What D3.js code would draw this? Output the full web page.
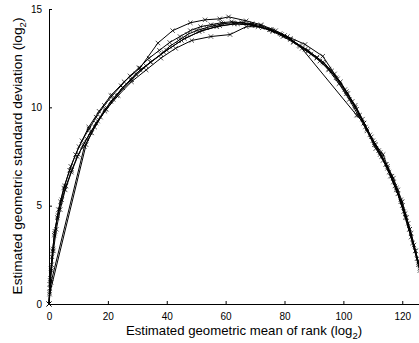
<!DOCTYPE html>
<html>
<head>
<meta charset="utf-8">
<script src="https://cdn.jsdelivr.net/npm/d3@7"></script>
<style>
html,body{margin:0;padding:0;background:#fff;}
svg{display:block;}
</style>
</head>
<body>
<svg id="chart" width="419" height="343"></svg>
<script>
const xTicks = [0, 20, 40, 60, 80, 100, 120];
const yTicks = [0, 5, 10, 15];
const xLabel = "Estimated geometric mean of rank (log";
const yLabel = "Estimated geometric standard deviation (log";

const s1 = [[0,0],[0.2,0.6],[0.5,1.3],[0.9,2.0],[1.4,2.8],[2.0,3.7],[3.0,4.5],[4.3,5.3],[5.8,6.0],[7.7,6.8],[9.6,7.5],[11.7,8.1],[14,8.7],[16.5,9.3],[19,9.9],[21.8,10.4],[25,11.0],[28,11.4],[31,11.9],[34.5,12.3],[38,12.7],[41,13.1],[44,13.4],[47,13.7],[50,13.9],[53.5,14.05],[56,14.15],[59,14.25],[62.5,14.3],[66,14.3],[69,14.25],[72,14.15],[75.5,13.95],[78.5,13.75],[82,13.5],[85,13.15],[88,12.85],[91,12.55],[93.5,12.25],[96,11.85],[99,11.3],[101.5,10.7],[104,10.1],[106.5,9.4],[109,8.6],[111,8.1],[113.5,7.6],[115,7.0],[117,6.4],[118.5,5.8],[120,5.2],[121.5,4.4],[123,3.6],[124.5,2.7],[126,1.8],[127.5,0.9],[129,0.2]];
const s2 = [[0,0],[0.3,1.0],[0.7,1.8],[1.2,2.7],[1.9,3.6],[2.8,4.4],[3.9,5.2],[5.3,6.0],[7.0,6.8],[9.0,7.6],[11.2,8.3],[13.6,8.9],[16,9.5],[18.8,10.1],[21.5,10.6],[24.5,11.1],[27.5,11.6],[30.5,12.0],[34,12.5],[37.5,12.9],[41,13.3],[44.5,13.6],[48,13.9],[51.5,14.1],[55,14.2],[58.5,14.3],[62,14.35],[65.5,14.3],[69,14.2],[72.5,14.05],[76,13.85],[79.5,13.6],[83,13.3],[86,13.0],[89,12.7],[92,12.35],[95,11.95],[98,11.45],[100.5,10.9],[103,10.3],[105.5,9.6],[108,8.9],[110.5,8.2],[112.5,7.7],[114.5,7.1],[116.5,6.5],[118,5.9],[119.5,5.3],[121,4.6],[122.5,3.8],[124,3.0],[125.5,2.1],[127,1.2],[128.5,0.4]];
const s3 = [[0,0],[0.4,1.2],[1.0,2.4],[1.8,3.5],[3.2,4.8],[5,5.9],[7.4,7.0],[10.2,8.0],[13.5,9.0],[17,9.8],[21,10.6],[25.5,11.3],[30.9,12.0],[37,13.27],[42,13.9],[48,14.3],[53,14.45],[58,14.5],[61,14.6],[67,14.4],[72,14.2],[77,13.9],[81,13.6],[87,13.2],[93,12.6],[97,11.7],[101,10.8],[104.5,9.9],[107.5,9.0],[110.5,8.1],[113,7.5],[115.5,6.7],[118,5.8],[120.5,4.7],[123,3.4],[125.5,2.0],[128,0.7]];
const s4 = [[0,0],[0.3,0.8],[0.8,1.7],[1.5,2.7],[2.5,3.8],[3.8,4.8],[5.5,5.8],[7.6,6.7],[10,7.6],[12.8,8.4],[16,9.2],[19.5,9.9],[23.5,10.6],[28,11.3],[33,11.9],[38,12.5],[43,13.0],[48.5,13.4],[55,13.6],[61.5,13.7],[67,14.1],[71,14.1],[75,13.95],[79,13.7],[83,13.35],[87,12.95],[91,12.5],[95,11.9],[98.5,11.2],[102,10.4],[105,9.6],[108,8.8],[111,7.9],[113.5,7.3],[116,6.5],[118.5,5.6],[121,4.4],[123.5,3.1],[126,1.7],[128.5,0.4]];
const s5 = [[0,0],[0.2,0.5],[12.6,8.1],[15.5,9.0],[19,9.8],[23,10.6],[28,11.4],[33,12.1],[39,12.8],[45,13.4],[51,13.85],[57,14.1],[63,14.25],[69,14.2],[75,13.95],[80,13.65],[85.3,13.1],[104.5,9.6],[107,9.2],[110,8.3],[112.5,7.6],[115,6.9],[117.5,6.0],[120,5.0],[122.5,3.8],[125,2.3],[127.5,0.9]];
const s6 = [[0,0],[0.7,1.1],[12,8.0],[14.5,8.7],[17.5,9.5],[21,10.3],[25,11.0],[29.5,11.7],[34.5,12.3],[40,12.9],[46,13.5],[52,13.9],[58,14.15],[64,14.25],[70,14.15],[76,13.9],[82,13.45],[88,12.9],[93,12.3],[97.5,11.5],[101,10.7],[104,10.0],[107,9.2],[109.5,8.5],[112,7.8],[114.5,7.1],[117,6.2],[119.5,5.2],[122,4.1],[124.5,2.7],[127,1.2],[129,0.2]];
const series = [s1, s2, s3, s4, s5, s6];

const svg = d3.select("#chart");
const x = d3.scaleLinear().domain([0, 128]).range([49, 425.8]);
const y = d3.scaleLinear().domain([0, 15]).range([304, 9]);
const font = "Liberation Sans, Arial, Helvetica, sans-serif";

const line = d3.line().x(d => x(d[0])).y(d => y(d[1]));
const g = svg.append("g");
series.forEach(s => {
  g.append("path").datum(s).attr("d", line)
    .attr("fill", "none").attr("stroke", "#000").attr("stroke-width", 1);
  const m = 2.2;
  g.selectAll(null).data(s).enter().append("path")
    .attr("d", d => {
      const cx = x(d[0]), cy = y(d[1]);
      return `M${cx-m},${cy-m}L${cx+m},${cy+m}M${cx-m},${cy+m}L${cx+m},${cy-m}`;
    })
    .attr("stroke", "#000").attr("stroke-width", 0.7).attr("fill", "none");
});

const xa = svg.append("g").attr("transform", "translate(0,304)")
  .call(d3.axisBottom(x).tickValues(xTicks).tickSizeInner(-3).tickSizeOuter(0).tickPadding(9));
const ya = svg.append("g").attr("transform", "translate(49,0)")
  .call(d3.axisLeft(y).tickValues(yTicks).tickSizeInner(-3).tickSizeOuter(0).tickPadding(7));
[xa, ya].forEach(a => {
  a.selectAll("text").attr("font-family", font).attr("font-size", 10).attr("fill", "#000");
  a.selectAll("line,path").attr("stroke", "#000").attr("stroke-width", 1);
});

function label(t, txt, fs) {
  t.attr("font-family", font).attr("font-size", fs).attr("fill", "#000").attr("text-anchor", "middle");
  t.append("tspan").text(txt);
  t.append("tspan").attr("font-size", 9.5).attr("dy", 3.5).text("2");
  t.append("tspan").attr("dy", -3.5).text(")");
}
label(svg.append("text").attr("x", 244).attr("y", 335), xLabel, 13.2);
label(svg.append("text").attr("transform", "translate(22,156) rotate(-90)"), yLabel, 13.7);
</script>
</body>
</html>
